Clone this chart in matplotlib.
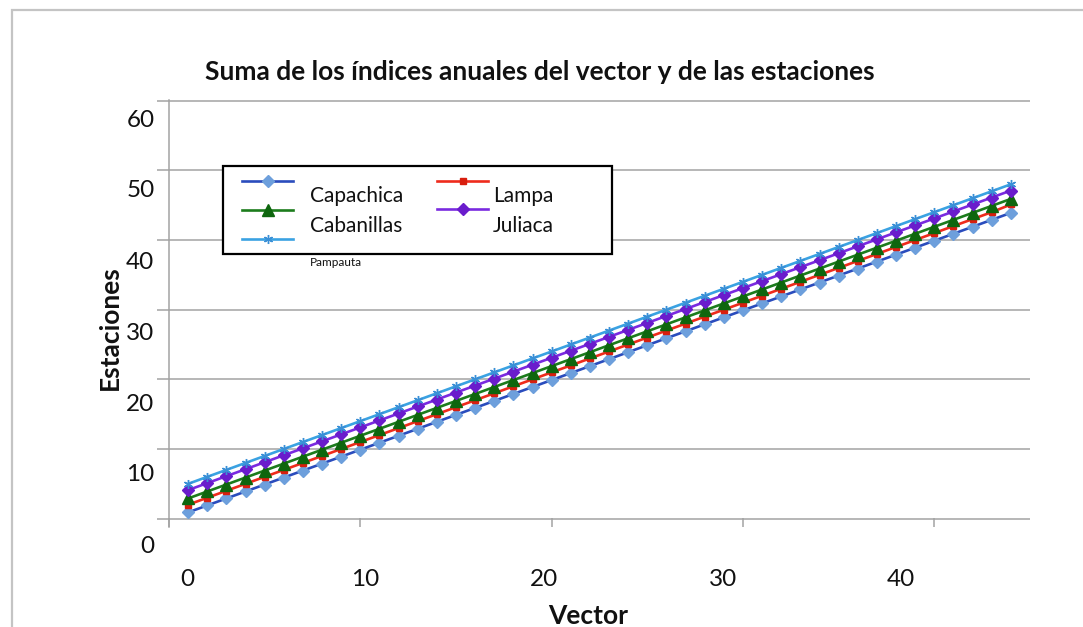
import matplotlib
matplotlib.use("Agg")
import matplotlib.pyplot as plt
from matplotlib.lines import Line2D
from matplotlib.patches import Rectangle
from matplotlib.transforms import ScaledTranslation

plt.rcParams['font.family'] = ['Lato', 'DejaVu Sans']

vector = [1, 2, 3, 4, 5, 6, 7, 8, 9, 10, 11, 12, 13, 14, 15, 16, 17, 18, 19, 20, 21, 22,
          23, 24, 25, 26, 27, 28, 29, 30, 31, 32, 33, 34, 35, 36, 37, 38, 39, 40, 41, 42, 43, 44]

capachica = [0.9, 1.9, 2.9, 3.9, 4.9, 5.9, 6.9, 7.9, 8.9, 9.9, 10.9, 11.9, 12.9, 13.9, 14.9,
             15.9, 16.9, 17.9, 18.9, 19.9, 20.9, 21.9, 22.9, 23.9, 24.9, 25.9, 26.9, 27.9,
             28.9, 29.9, 30.9, 31.9, 32.9, 33.9, 34.9, 35.9, 36.9, 37.9, 38.9, 39.9, 40.9,
             41.9, 42.9, 43.9]
lampa = [2.0, 3.0, 4.0, 5.0, 6.0, 7.0, 8.0, 9.0, 10.0, 11.0, 12.0, 13.0, 14.0, 15.0, 16.0,
         17.0, 18.0, 19.0, 20.0, 21.0, 22.0, 23.0, 24.0, 25.0, 26.0, 27.0, 28.0, 29.0, 30.0,
         31.0, 32.0, 33.0, 34.0, 35.0, 36.0, 37.0, 38.0, 39.0, 40.0, 41.0, 42.0, 43.0, 44.0,
         45.1]
cabanillas = [2.9, 3.9, 4.9, 5.9, 6.9, 7.9, 8.9, 9.9, 10.9, 11.9, 12.9, 13.9, 14.9, 15.9,
              16.9, 17.9, 18.9, 19.9, 20.9, 21.9, 22.9, 23.9, 24.9, 25.9, 26.9, 27.9, 28.9,
              29.9, 30.9, 31.9, 32.9, 33.9, 34.9, 35.9, 36.9, 37.9, 38.9, 39.9, 40.9, 41.9,
              42.9, 43.9, 44.9, 45.9]
juliaca = [4.1, 5.1, 6.1, 7.1, 8.1, 9.1, 10.1, 11.1, 12.1, 13.1, 14.1, 15.1, 16.1, 17.1,
           18.1, 19.1, 20.1, 21.1, 22.1, 23.1, 24.1, 25.1, 26.1, 27.1, 28.1, 29.1, 30.1,
           31.1, 32.1, 33.1, 34.1, 35.1, 36.1, 37.1, 38.1, 39.1, 40.1, 41.1, 42.1, 43.1,
           44.1, 45.1, 46.1, 47.1]
pampauta = [5.0, 6.0, 7.0, 8.0, 9.0, 10.0, 11.0, 12.0, 13.0, 14.0, 15.0, 16.0, 17.0, 18.0,
            19.0, 20.0, 21.0, 22.0, 23.0, 24.0, 25.0, 26.0, 27.0, 28.0, 29.0, 30.0, 31.0,
            32.0, 33.0, 34.0, 35.0, 36.0, 37.0, 38.0, 39.0, 40.0, 41.0, 42.0, 43.0, 44.0,
            45.0, 46.0, 47.0, 48.0]

x_ticks = [0, 10, 20, 30, 40]
y_ticks = [0, 10, 20, 30, 40, 50, 60]

# line colour, marker, marker colour, marker size
styles = {
    'Capachica': ('#2a4cbd', 'D', '#6d9fdc', 6.5),
    'Lampa': ('#ee2b1c', 's', '#d81e0e', 5),
    'Cabanillas': ('#1c7c1c', '^', '#0e660e', 8),
    'Juliaca': ('#7a2ae0', 'D', '#6a1ccc', 6),
    'Pampauta': ('#3aa2e2', (6, 2, 0), '#3a8fd6', 6.5),
}
series = {
    'Capachica': capachica,
    'Lampa': lampa,
    'Cabanillas': cabanillas,
    'Juliaca': juliaca,
    'Pampauta': pampauta,
}

W, H = 1083, 627
fig = plt.figure(figsize=(W / 100, H / 100), dpi=100)


def fx(px):
    return px / W


def fy(py):
    return 1 - py / H


# light frame around the chart
fig.patches.append(Rectangle((fx(12), -0.1), 1.2, fy(10) + 0.1, transform=fig.transFigure,
                             fill=False, edgecolor='#c4c4c4', linewidth=1.6))

ax = fig.add_axes([fx(169), fy(527), fx(1030) - fx(169), fy(100) - fy(527)])
grid_c = '#a3a3a3'

for name in ['Capachica', 'Lampa', 'Cabanillas', 'Juliaca', 'Pampauta']:
    lc, mk, mc, ms = styles[name]
    ax.plot(vector, series[name], color=lc, linewidth=1.9, marker=mk, markersize=ms,
            markerfacecolor=mc, markeredgecolor=mc, markeredgewidth=1, zorder=3)

ax.set_xlim(0, 45)
ax.set_ylim(-1.2, 60.1)
ax.set_xticks(x_ticks)
ax.set_yticks(y_ticks)
ax.yaxis.grid(True, color=grid_c, linewidth=1.1)
ax.set_axisbelow(True)
for s in ['top', 'right', 'bottom']:
    ax.spines[s].set_visible(False)
ax.spines['left'].set_color(grid_c)
ax.spines['left'].set_linewidth(1.1)
ax.tick_params(axis='y', direction='out', length=8.5, width=1.1, color=grid_c,
               labelsize=17.5, pad=2, labelcolor='#111111')
ax.tick_params(axis='x', direction='in', length=6.5, width=1.1, color=grid_c,
               labelsize=17.5, pad=30, labelcolor='#111111')

# tick labels sit slightly off their ticks
x_shift = [18, 5, -8, -20, -33]
for lab, dx in zip(ax.get_xticklabels(), x_shift):
    lab.set_transform(lab.get_transform() + ScaledTranslation(dx / 100, 0, fig.dpi_scale_trans))
y_shift = [26, 24, 23, 22, 20, 18.5, 18]
for lab, dy in zip(ax.get_yticklabels(), y_shift):
    lab.set_transform(lab.get_transform() + ScaledTranslation(0, -dy / 100, fig.dpi_scale_trans))

fig.text(fx(540), fy(72), 'Suma de los índices anuales del vector y de las estaciones',
         ha='center', va='center', fontsize=19, fontweight='bold', color='#111111')
fig.text(fx(110), fy(328), 'Estaciones', ha='center', va='center', rotation=90,
         fontsize=19, fontweight='bold', color='#111111')
fig.text(fx(588), fy(616), 'Vector', ha='center', va='center',
         fontsize=19, fontweight='bold', color='#111111')

# legend box drawn by hand
fig.patches.append(Rectangle((fx(223), fy(254)), fx(612) - fx(223), fy(166) - fy(254),
                             transform=fig.transFigure, facecolor='white',
                             edgecolor='black', linewidth=1.6, zorder=5))
legend_rows = [
    ('Capachica', 242, 293, 181, 310, 196, 15),
    ('Cabanillas', 242, 293, 210, 310, 226, 15),
    ('Pampauta', 242, 293, 239, 310, 262, 8.5),
    ('Lampa', 437, 488, 181, 493, 196, 15),
    ('Juliaca', 437, 488, 209, 493, 226, 15),
]
for name, x0, x1, ly, tx, ty, fs in legend_rows:
    lc, mk, mc, ms = styles[name]
    fig.add_artist(Line2D([fx(x0), fx(x1)], [fy(ly), fy(ly)], transform=fig.transFigure,
                          color=lc, linewidth=1.9, zorder=6))
    fig.add_artist(Line2D([fx((x0 + x1) / 2)], [fy(ly)], transform=fig.transFigure,
                          marker=mk, markersize=ms, markerfacecolor=mc,
                          markeredgecolor=mc, linestyle='none', zorder=7))
    fig.text(fx(tx), fy(ty), name, ha='left', va='center', fontsize=fs,
             color='#111111', zorder=8)

fig.savefig('out.png', dpi=100, facecolor='white')
